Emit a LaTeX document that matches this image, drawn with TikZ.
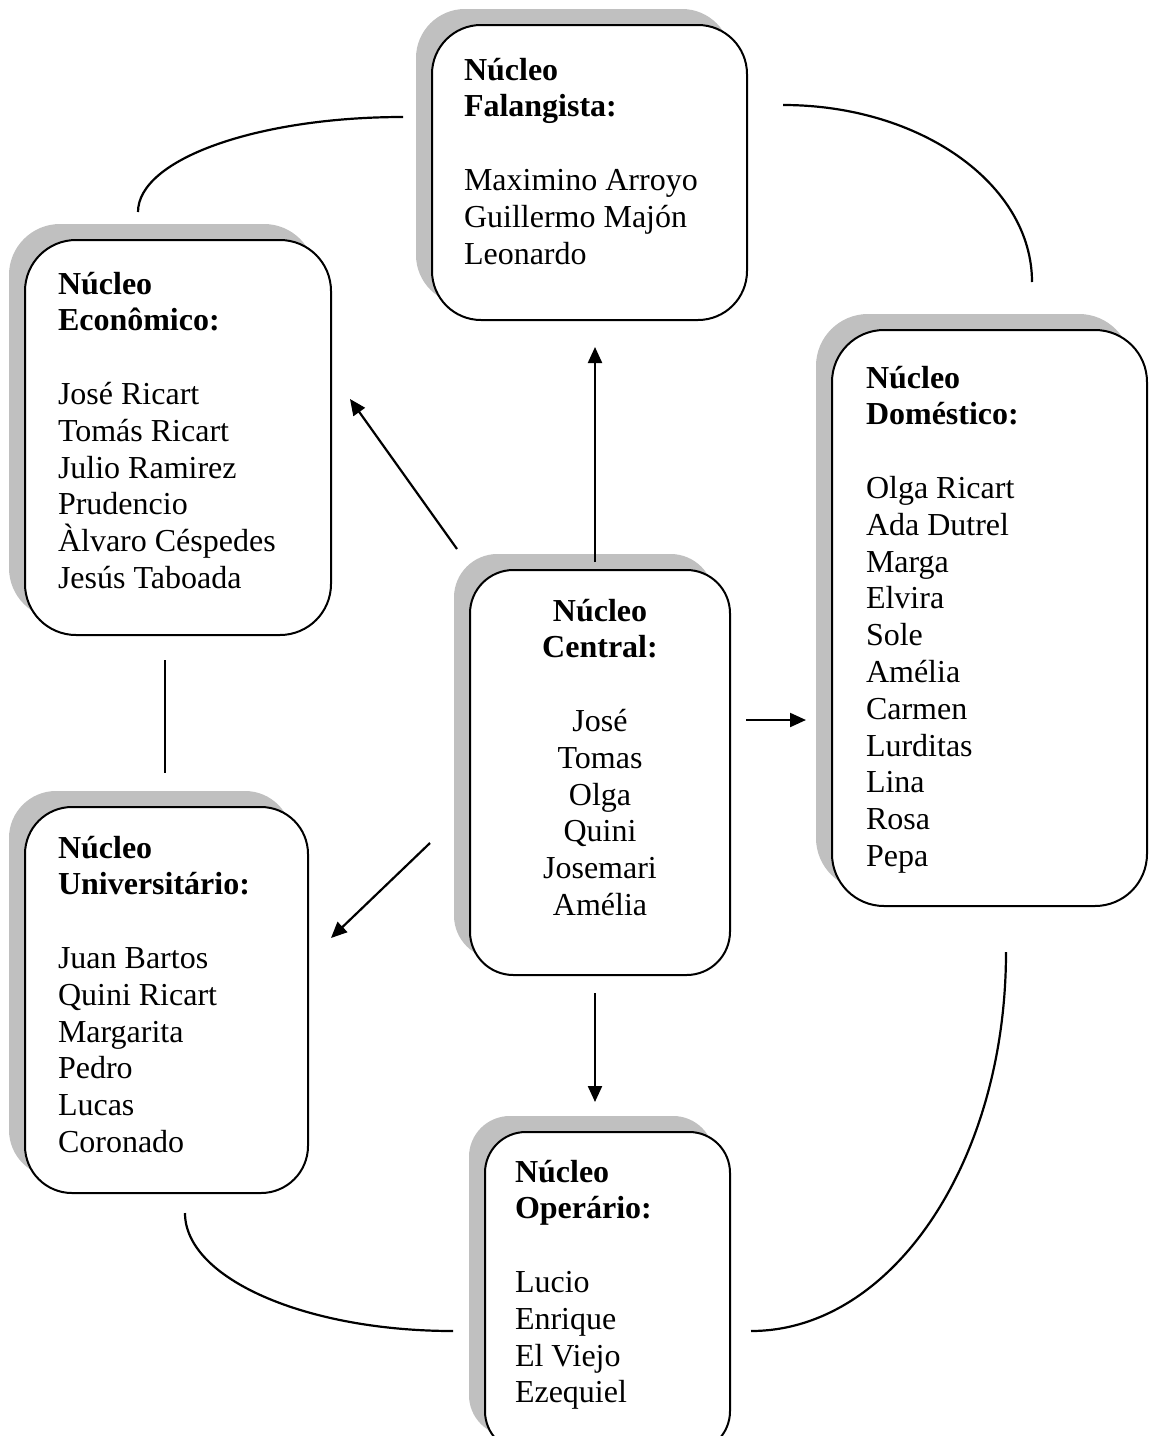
\documentclass[tikz,border=0pt]{standalone}
\usepackage{fontspec}
\setmainfont{Liberation Serif}
\usetikzlibrary{arrows.meta,fit}

\definecolor{sombra}{RGB}{192,192,192}

\tikzset{
  caixa/.style={draw=black, line width=1pt, fill=white, inner sep=0pt, outer sep=0pt},
  sombracaixa/.style={fill=sombra, draw=none, inner sep=0pt, outer sep=0pt},
  texto/.style={inner sep=0pt, outer sep=0pt, font=\fontsize{16pt}{18.4pt}\selectfont},
  seta/.style={line width=1.1pt, -{Triangle[length=8pt,width=7pt]}},
  ligacao/.style={line width=1.1pt},
}

% rounded box with a grey shadow shifted up and to the left
% #1 name, #2 #3 top-left corner, #4 #5 bottom-right corner, #6 corner radius
\newcommand\caixaNucleo[6]{%
  \node[sombracaixa, rounded corners=#6, fit={(#2-16,#3-16) (#4-16,#5-16)}] (#1-sombra) {};
  \node[caixa, rounded corners=#6, fit={(#2,#3) (#4,#5)}] (#1) {};
}

\begin{document}
\begin{tikzpicture}[x=0.5pt, y=-0.5pt]
  \useasboundingbox (0,0) rectangle (1149,1436);
  \clip (0,0) rectangle (1149,1436);
  \fill[white] (0,0) rectangle (1149,1436);

  % boxes
  \caixaNucleo{fal}{432}{25}{747}{320}{24.5pt}
  \caixaNucleo{eco}{25}{240}{331}{635}{25.5pt}
  \caixaNucleo{cen}{470}{570}{730}{975}{21.7pt}
  \caixaNucleo{dom}{832}{330}{1147}{906}{26pt}
  \caixaNucleo{uni}{25}{807}{308}{1193}{23.5pt}
  \caixaNucleo{ope}{485}{1132}{730}{1452}{20.4pt}

  % texts
  \node[texto, anchor=base west] (fal-txt) at (464,80) {\parbox[t]{150pt}{%
    \textbf{Núcleo}\\\textbf{Falangista:}\\[18.4pt]
    Maximino Arroyo\\Guillermo Majón\\Leonardo}};
  \node[texto, anchor=base west] (eco-txt) at (58,294) {\parbox[t]{140pt}{%
    \textbf{Núcleo}\\\textbf{Econômico:}\\[18.4pt]
    José Ricart\\Tomás Ricart\\Julio Ramirez\\Prudencio\\Àlvaro Céspedes\\Jesús Taboada}};
  \node[texto, anchor=base] (cen-txt) at (600,621) {\parbox[t]{120pt}{\centering
    \textbf{Núcleo}\\\textbf{Central:}\\[18.4pt]
    José\\Tomas\\Olga\\Quini\\Josemari\\Amélia}};
  \node[texto, anchor=base west] (dom-txt) at (866,388) {\parbox[t]{130pt}{%
    \textbf{Núcleo}\\\textbf{Doméstico:}\\[18.4pt]
    Olga Ricart\\Ada Dutrel\\Marga\\Elvira\\Sole\\Amélia\\Carmen\\Lurditas\\Lina\\Rosa\\Pepa}};
  \node[texto, anchor=base west] (uni-txt) at (58,858) {\parbox[t]{130pt}{%
    \textbf{Núcleo}\\\textbf{Universitário:}\\[18.4pt]
    Juan Bartos\\Quini Ricart\\Margarita\\Pedro\\Lucas\\Coronado}};
  \node[texto, anchor=base west] (ope-txt) at (515,1182) {\parbox[t]{100pt}{%
    \textbf{Núcleo}\\\textbf{Operário:}\\[18.4pt]
    Lucio\\Enrique\\El Viejo\\Ezequiel}};

  % connector ends
  \coordinate (cen-n)  at (595,562);
  \coordinate (fal-s)  at (595,347);
  \coordinate (cen-nw) at (457,549);
  \coordinate (eco-se) at (350,399);
  \coordinate (cen-e)  at (746,720);
  \coordinate (dom-w)  at (806,720);
  \coordinate (cen-w)  at (430,843);
  \coordinate (uni-e)  at (331,938);
  \coordinate (cen-s)  at (595,993);
  \coordinate (ope-n)  at (595,1102);

  \coordinate (eco-s)  at (165,660);
  \coordinate (uni-n)  at (165,773);
  \coordinate (eco-n)  at (138,212);
  \coordinate (fal-w)  at (403,117);
  \coordinate (fal-e)  at (783,105);
  \coordinate (dom-n)  at (1032,282);
  \coordinate (dom-s)  at (1006,952);
  \coordinate (ope-e)  at (751,1331);
  \coordinate (uni-s)  at (185,1213);
  \coordinate (ope-w)  at (453,1331);

  % arrows from the central group
  \draw[seta] (cen-n)  -- (fal-s);
  \draw[seta] (cen-nw) -- (eco-se);
  \draw[seta] (cen-e)  -- (dom-w);
  \draw[seta] (cen-w)  -- (uni-e);
  \draw[seta] (cen-s)  -- (ope-n);

  % links around the ring
  \draw[ligacao] (eco-s) -- (uni-n);
  \draw[ligacao] (eco-n) .. controls (138,159.5) and (256.6,117) .. (fal-w);
  \draw[ligacao] (fal-e) .. controls (920.5,105) and (1032,184.2) .. (dom-n);
  \draw[ligacao] (dom-s) .. controls (1006,1161.9) and (891.8,1331) .. (ope-e);
  \draw[ligacao] (uni-s) .. controls (185,1278.2) and (305,1331) .. (ope-w);
\end{tikzpicture}
\end{document}
